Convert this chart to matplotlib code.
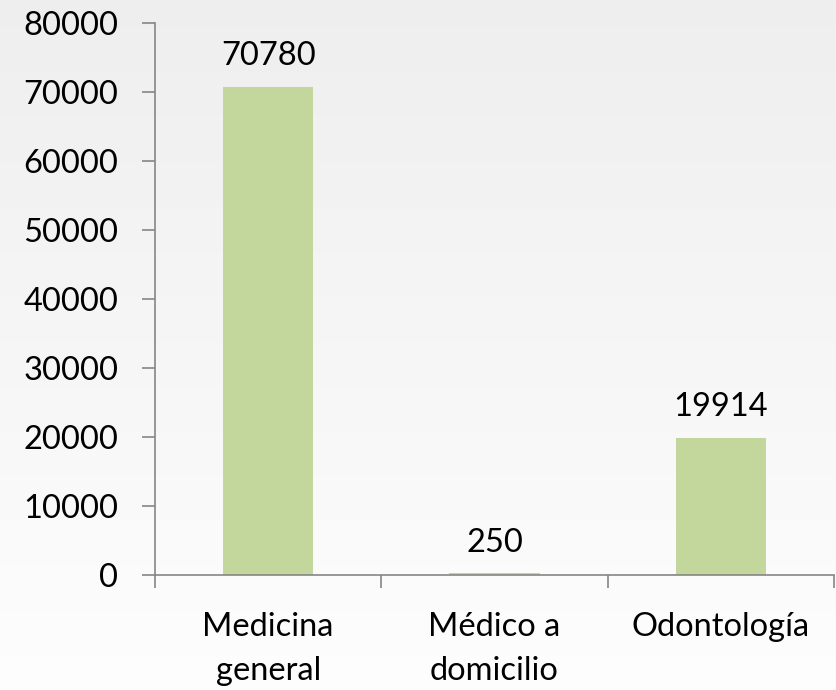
import matplotlib
matplotlib.use("Agg")
import matplotlib.pyplot as plt
import numpy as np

categories = ["Medicina\ngeneral", "Médico a\ndomicilio", "Odontología"]
values = [70780, 250, 19914]
yticks = [0, 10000, 20000, 30000, 40000, 50000, 60000, 70000, 80000]

plt.rcParams['font.family'] = ['Lato', 'DejaVu Sans']

fig = plt.figure(figsize=(8.36, 6.9), dpi=100)

# background gradient
bg = fig.add_axes([0, 0, 1, 1], zorder=-10)
grad = np.linspace(0, 1, 256).reshape(-1, 1)
top = np.array([0.935, 0.935, 0.935])
bot = np.array([0.995, 0.995, 0.995])
img = top + (bot - top) * grad[..., None]
bg.imshow(img, aspect='auto', extent=[0, 1, 0, 1])
bg.axis('off')

FS = 23.5
ax = fig.add_axes([155/836, 1 - 575/690, (834-155)/836, (575-23)/690])
ax.patch.set_alpha(0)
x = np.arange(len(categories))
bars = ax.bar(x, values, width=0.4, color='#C3D69B', zorder=2)
for xi, v in zip(x, values):
    ax.text(xi, v + 2200, str(v), ha='center', va='bottom', fontsize=FS, color='black')

ax.set_xlim(-0.5, len(categories) - 0.5)
ax.set_ylim(0, 80000)
ax.set_yticks(yticks)
ax.set_yticklabels([str(t) for t in yticks], fontsize=FS)
ax.set_xticks(x)
ax.set_xticklabels(categories, fontsize=FS, linespacing=1.55)
ax.set_xticks([-0.5, 0.5, 1.5, 2.5], minor=True)
ax.tick_params(axis='x', which='major', length=0, pad=27)
ax.tick_params(axis='x', which='minor', length=9.5, width=1.2, color='#868686', direction='out')
ax.tick_params(axis='y', length=9.5, width=1.2, color='#868686', direction='out', pad=17)

for s in ['top', 'right']:
    ax.spines[s].set_visible(False)
for s in ['left', 'bottom']:
    ax.spines[s].set_color('#868686')
    ax.spines[s].set_linewidth(1.2)

fig.savefig("out.png", dpi=100)
